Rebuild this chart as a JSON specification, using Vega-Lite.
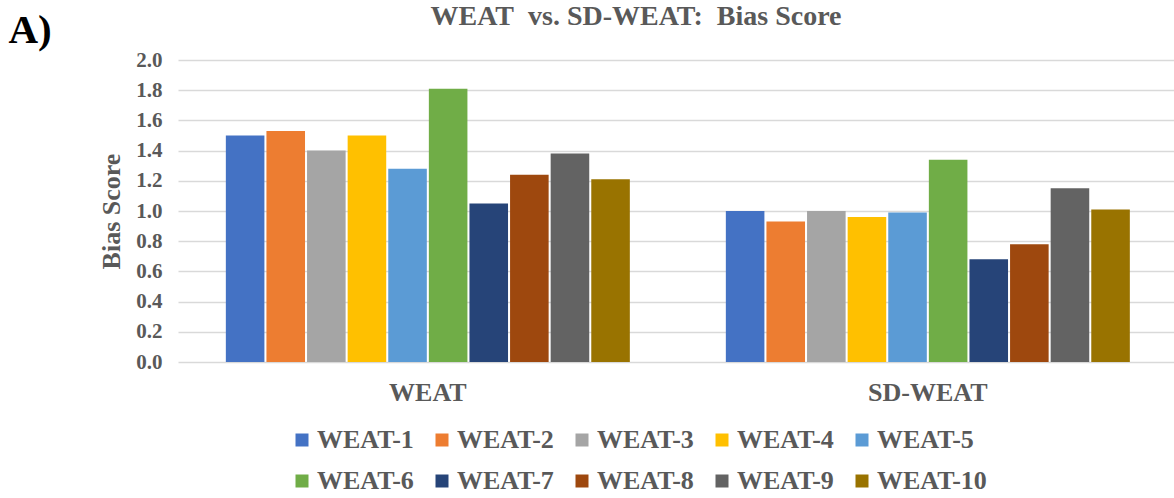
{
  "$schema": "https://vega.github.io/schema/vega-lite/v6.json",
  "autosize": "none",
  "width": 996,
  "height": 302,
  "padding": {"left": 178, "top": 60, "right": 0, "bottom": 136},
  "background": "white",
  "title": {
    "text": "WEAT\u00a0 vs. SD-WEAT:\u00a0 Bias Score",
    "anchor": "middle",
    "dx": -40,
    "dy": 44,
    "fontSize": 28,
    "font": "Liberation Serif",
    "fontWeight": "bold",
    "color": "#595959",
    "baseline": "alphabetic",
    "offset": 0
  },
  "config": {
    "font": "Liberation Serif",
    "view": {"stroke": null}
  },
  "data": {
    "values": [
      {"group": "WEAT", "test": "WEAT-1", "score": 1.50},
      {"group": "WEAT", "test": "WEAT-2", "score": 1.53},
      {"group": "WEAT", "test": "WEAT-3", "score": 1.40},
      {"group": "WEAT", "test": "WEAT-4", "score": 1.50},
      {"group": "WEAT", "test": "WEAT-5", "score": 1.28},
      {"group": "WEAT", "test": "WEAT-6", "score": 1.81},
      {"group": "WEAT", "test": "WEAT-7", "score": 1.05},
      {"group": "WEAT", "test": "WEAT-8", "score": 1.24},
      {"group": "WEAT", "test": "WEAT-9", "score": 1.38},
      {"group": "WEAT", "test": "WEAT-10", "score": 1.21},
      {"group": "SD-WEAT", "test": "WEAT-1", "score": 1.00},
      {"group": "SD-WEAT", "test": "WEAT-2", "score": 0.93},
      {"group": "SD-WEAT", "test": "WEAT-3", "score": 1.00},
      {"group": "SD-WEAT", "test": "WEAT-4", "score": 0.96},
      {"group": "SD-WEAT", "test": "WEAT-5", "score": 0.99},
      {"group": "SD-WEAT", "test": "WEAT-6", "score": 1.34},
      {"group": "SD-WEAT", "test": "WEAT-7", "score": 0.68},
      {"group": "SD-WEAT", "test": "WEAT-8", "score": 0.78},
      {"group": "SD-WEAT", "test": "WEAT-9", "score": 1.15},
      {"group": "SD-WEAT", "test": "WEAT-10", "score": 1.01}
    ]
  },
  "layer": [
    {
      "mark": {"type": "bar"},
      "encoding": {
        "x": {
          "field": "group",
          "type": "nominal",
          "sort": ["WEAT", "SD-WEAT"],
          "scale": {"paddingInner": 0.192, "paddingOuter": 0.092, "align": 0.52},
          "axis": {
            "orient": "bottom",
            "title": null,
            "labelAngle": 0,
            "labelFontSize": 26,
            "labelFontWeight": "bold",
            "labelColor": "#595959",
            "labelPadding": 17,
            "ticks": false,
            "domain": false
          }
        },
        "xOffset": {
          "field": "test",
          "type": "nominal",
          "sort": ["WEAT-1", "WEAT-2", "WEAT-3", "WEAT-4", "WEAT-5", "WEAT-6", "WEAT-7", "WEAT-8", "WEAT-9", "WEAT-10"],
          "scale": {"paddingInner": 0.05, "paddingOuter": 0}
        },
        "y": {
          "field": "score",
          "type": "quantitative",
          "scale": {"domain": [0, 2], "nice": false},
          "axis": {
            "title": "Bias Score",
            "titleFontSize": 26,
            "titleFontWeight": "bold",
            "titleColor": "#595959",
            "titlePadding": 11,
            "values": [0, 0.2, 0.4, 0.6, 0.8, 1.0, 1.2, 1.4, 1.6, 1.8, 2.0],
            "format": ".1f",
            "labelFontSize": 21,
            "labelFontWeight": "bold",
            "labelColor": "#595959",
            "labelPadding": 16,
            "ticks": false,
            "domain": false,
            "grid": true,
            "gridColor": "#D9D9D9",
            "gridWidth": 1.5
          }
        },
        "color": {
          "field": "test",
          "type": "nominal",
          "sort": ["WEAT-1", "WEAT-2", "WEAT-3", "WEAT-4", "WEAT-5", "WEAT-6", "WEAT-7", "WEAT-8", "WEAT-9", "WEAT-10"],
          "scale": {
            "domain": ["WEAT-1", "WEAT-2", "WEAT-3", "WEAT-4", "WEAT-5", "WEAT-6", "WEAT-7", "WEAT-8", "WEAT-9", "WEAT-10"],
            "range": ["#4472C4", "#ED7D31", "#A5A5A5", "#FFC000", "#5B9BD5", "#70AD47", "#264478", "#9E480E", "#636363", "#997300"]
          },
          "legend": {
            "orient": "none",
            "legendX": 111,
            "legendY": 367,
            "title": null,
            "columns": 5,
            "direction": "horizontal",
            "symbolType": "square",
            "symbolSize": 169,
            "symbolStrokeWidth": 0,
            "labelFontSize": 26,
            "labelFontWeight": "bold",
            "labelColor": "#595959",
            "labelOffset": 2,
            "columnPadding": 15,
            "rowPadding": 15,
            "labelLimit": 300
          }
        }
      }
    },
    {
      "mark": {"type": "text"},
      "encoding": {
        "x": {
          "field": "group",
          "type": "nominal",
          "sort": ["WEAT", "SD-WEAT"],
          "axis": {
            "orient": "top",
            "title": "A)",
            "titleX": -170,
            "titleY": -18,
            "titleAlign": "left",
            "titleBaseline": "alphabetic",
            "titleAngle": 0,
            "titleFontSize": 41,
            "titleFontWeight": "bold",
            "titleColor": "#000000",
            "labels": false,
            "ticks": false,
            "domain": false,
            "grid": false
          }
        },
        "text": {"value": ""}
      }
    }
  ],
  "resolve": {"axis": {"x": "independent"}}
}
